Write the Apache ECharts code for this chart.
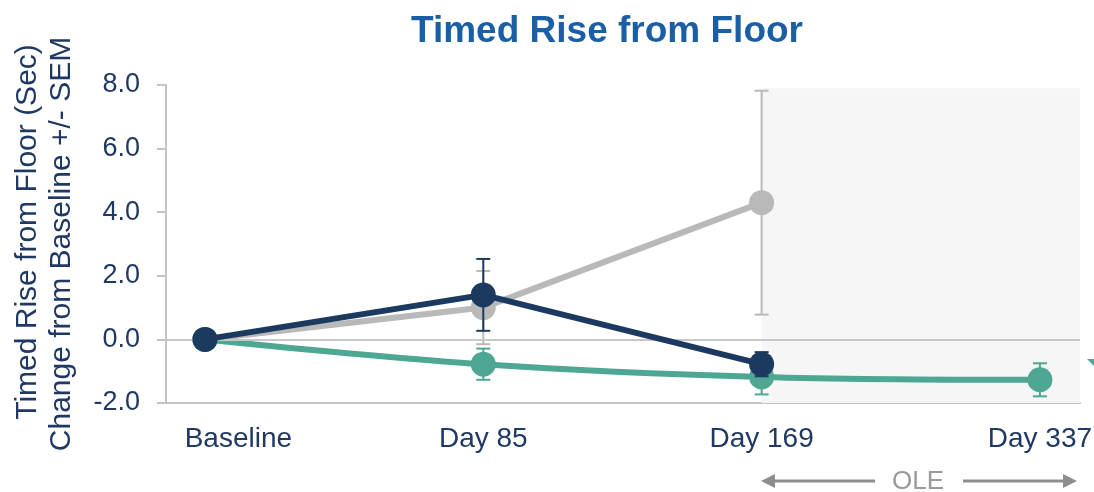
<!DOCTYPE html>
<html>
<head>
<meta charset="utf-8">
<script src="https://cdn.jsdelivr.net/npm/echarts@6/dist/echarts.min.js"></script>
<style>
  html, body { margin: 0; padding: 0; background: #ffffff; }
  #chart { width: 1094px; height: 492px; }
</style>
</head>
<body>
<div id="chart"></div>
<script>
// Visits and change-from-baseline values (seconds) with SEM
const visits = ['Baseline', 'Day 85', 'Day 169', 'Day 337'];
const yTicks = [-2, 0, 2, 4, 6, 8];
const yTitleLines = ['Timed Rise from Floor (Sec)', 'Change from Baseline +/- SEM'];

const greyMean = [0, 1.0, 4.3, null];
const greySem  = [null, 1.15, 3.52, null];

const tealMean = [0, -0.78, -1.18, -1.27];
const tealSem  = [null, 0.49, 0.55, 0.52];

const navyMean = [0, 1.4, -0.78, null];
const navySem  = [null, 1.13, 0.38, null];

const oleStart = 2; // index of the first open-label-extension visit

const GREY = '#b9b9b9';
const TEAL = '#4ea792';
const NAVY = '#1c3a5f';
const TEXT = '#1f3864';
const FONT = 'Liberation Sans, Arial, sans-serif';

function points(means) {
  return means.map((v, i) => (v === null ? null : [i, v])).filter(p => p);
}
function bars(means, sems) {
  const out = [];
  means.forEach((v, i) => {
    if (v !== null && sems[i] !== null) out.push([i, v - sems[i], v + sems[i]]);
  });
  return out;
}

function errorSeries(means, sems, color, z) {
  return {
    type: 'custom',
    z: z,
    silent: true,
    data: bars(means, sems),
    renderItem: function (params, api) {
      const x = api.value(0);
      const lo = api.coord([x, api.value(1)]);
      const hi = api.coord([x, api.value(2)]);
      const half = 7;
      const style = { stroke: color, lineWidth: 2 };
      return {
        type: 'group',
        children: [
          { type: 'line', shape: { x1: lo[0], y1: lo[1], x2: hi[0], y2: hi[1] }, style: style },
          { type: 'line', shape: { x1: lo[0] - half, y1: lo[1], x2: lo[0] + half, y2: lo[1] }, style: style },
          { type: 'line', shape: { x1: hi[0] - half, y1: hi[1], x2: hi[0] + half, y2: hi[1] }, style: style }
        ]
      };
    }
  };
}

function lineSeries(means, color, z, smooth) {
  return {
    type: 'line',
    z: z,
    data: points(means),
    smooth: smooth,
    symbol: 'circle',
    symbolSize: 25,
    lineStyle: { color: color, width: 6 },
    itemStyle: { color: color },
    silent: true
  };
}

const chart = echarts.init(document.getElementById('chart'));

chart.setOption({
  animation: false,
  backgroundColor: '#ffffff',
  title: {
    text: 'Timed Rise from Floor',
    left: 602,
    top: 8,
    textAlign: 'center',
    textStyle: {
      fontFamily: FONT,
      fontSize: 37,
      fontWeight: 'bold',
      color: '#1a5ea6'
    }
  },
  grid: { left: 166, right: 14, top: 85, bottom: 89, containLabel: false, outerBoundsMode: 'none' },
  xAxis: {
    type: 'value',
    min: -0.14,
    max: 3.144,
    axisLine: { show: true, onZero: false, lineStyle: { color: '#c4c4c4', width: 2 } },
    axisTick: { show: false },
    splitLine: { show: false },
    axisLabel: {
      customValues: [0.12, 1, 2, 3],
      margin: 22,
      fontFamily: FONT,
      fontSize: 28,
      color: TEXT,
      formatter: v => visits[Math.round(v)]
    }
  },
  yAxis: {
    type: 'value',
    min: yTicks[0],
    max: yTicks[yTicks.length - 1],
    interval: 2,
    axisLine: { show: true, onZero: false, lineStyle: { color: '#c4c4c4', width: 2 } },
    axisTick: { show: true, inside: false, length: 9, lineStyle: { color: '#c4c4c4', width: 2 } },
    splitLine: { show: false },
    axisLabel: {
      margin: 26,
      fontFamily: FONT,
      fontSize: 27,
      color: TEXT,
      formatter: v => v.toFixed(1)
    }
  },
  series: [
    Object.assign(lineSeries(greyMean, GREY, 2, false), {
      markArea: {
        silent: true,
        itemStyle: { color: '#f6f6f6' },
        data: [[{ xAxis: oleStart, yAxis: -2 }, { xAxis: 3.144, yAxis: 7.9 }]]
      },
      markLine: {
        silent: true,
        symbol: 'none',
        label: { show: false },
        lineStyle: { color: '#c8c8c8', width: 2, type: 'solid' },
        data: [{ yAxis: 0 }]
      }
    }),
    errorSeries(greyMean, greySem, GREY, 1),
    errorSeries(tealMean, tealSem, TEAL, 3),
    lineSeries(tealMean, TEAL, 4, 0.35),
    errorSeries(navyMean, navySem, NAVY, 5),
    lineSeries(navyMean, NAVY, 6, false)
  ],
  graphic: [
    // two-line y-axis title, rotated
    { type: 'text', x: 28, y: 232, rotation: Math.PI / 2,
      style: { text: yTitleLines[0], fontFamily: FONT, fontSize: 30, fill: TEXT, align: 'center', verticalAlign: 'middle' } },
    { type: 'text', x: 62, y: 244, rotation: Math.PI / 2,
      style: { text: yTitleLines[1], fontFamily: FONT, fontSize: 30, fill: TEXT, align: 'center', verticalAlign: 'middle' } },
    // OLE span marker under the extension visits
    { type: 'line', shape: { x1: 770, y1: 481, x2: 875, y2: 481 }, style: { stroke: '#8e8e8e', lineWidth: 3 } },
    { type: 'polygon', shape: { points: [[761, 481], [775, 474], [775, 488]] }, style: { fill: '#8e8e8e' } },
    { type: 'text', x: 918, y: 482, style: { text: 'OLE', fontFamily: FONT, fontSize: 26, fill: '#9a9a9a', align: 'center', verticalAlign: 'middle' } },
    { type: 'line', shape: { x1: 963, y1: 481, x2: 1068, y2: 481 }, style: { stroke: '#8e8e8e', lineWidth: 3 } },
    { type: 'polygon', shape: { points: [[1077, 481], [1063, 474], [1063, 488]] }, style: { fill: '#8e8e8e' } },
    // teal pointer at the right edge
    { type: 'polygon', shape: { points: [[1087, 359], [1094, 359], [1094, 366]] }, style: { fill: TEAL } }
  ]
});
</script>
</body>
</html>
